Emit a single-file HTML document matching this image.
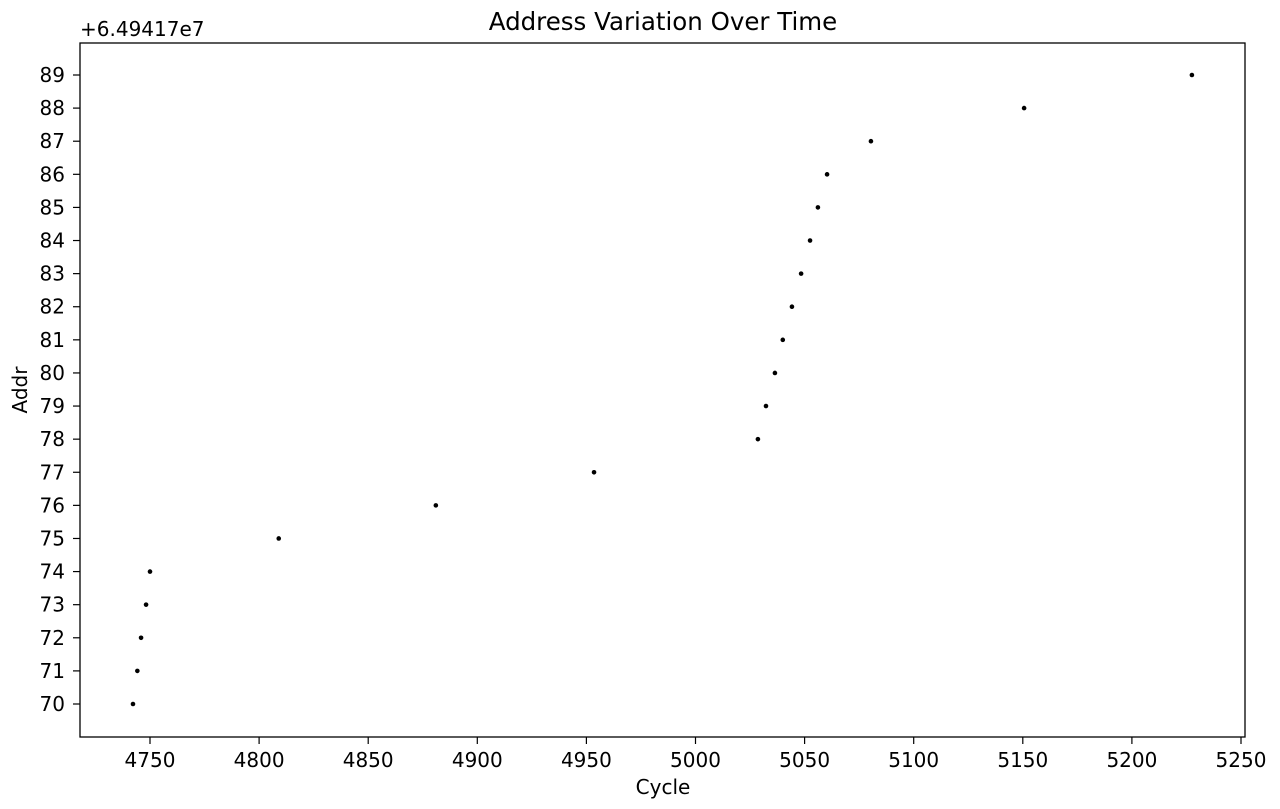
<!DOCTYPE html>
<html><head><meta charset="utf-8"><style>
body{margin:0;background:#fff}
svg text{font-family:"DejaVu Sans","Liberation Sans",sans-serif;fill:#000}
</style></head><body>
<svg id="chart" width="1280" height="804" xmlns="http://www.w3.org/2000/svg">
<rect width="1280" height="804" fill="#fff"/>
</svg>
<script>
const cycles=[4742.2,4744.2,4745.9,4748.2,4750,4809,4881,4953.5,5028.6,5032.3,5036.4,5040,5044.2,5048.4,5052.5,5056.1,5060.3,5080.4,5150.6,5227.5];
const addrs=[70,71,72,73,74,75,76,77,78,79,80,81,82,83,84,85,86,87,88,89];
const xTicks=[4750,4800,4850,4900,4950,5000,5050,5100,5150,5200,5250];
const yTicks=[70,71,72,73,74,75,76,77,78,79,80,81,82,83,84,85,86,87,88,89];
const L=80,R=1245,T=43,B=737;
const xs=v=>150+(v-4750)*(1091/500);
const ys=v=>704-(v-70)*(629/19);
const NS="http://www.w3.org/2000/svg";
const svg=document.getElementById('chart');
function mk(tag,attrs,parent){const e=document.createElementNS(NS,tag);for(const k in attrs)e.setAttribute(k,attrs[k]);(parent||svg).appendChild(e);return e;}
const frame=mk('rect',{x:L,y:T,width:R-L,height:B-T,fill:'none',stroke:'#000','stroke-width':1.3});


const gx=mk('g',{});


xTicks.forEach(t=>{const x=xs(t);
 mk('line',{x1:x,x2:x,y1:B,y2:B+7,stroke:'#000','stroke-width':1.2},gx);
 const tx=mk('text',{x:x,y:767,'font-size':20,'text-anchor':'middle'},gx);tx.textContent=t;
 
 });
const gy=mk('g',{});


yTicks.forEach(t=>{const y=ys(t);
 mk('line',{x1:L-7,x2:L,y1:y,y2:y,stroke:'#000','stroke-width':1.2},gy);
 const tx=mk('text',{x:65,y:y+7,'font-size':20,'text-anchor':'end'},gy);tx.textContent=t;
 
 });
const gp=mk('g',{});


cycles.forEach((c,i)=>{const p=mk('circle',{cx:xs(c),cy:ys(addrs[i]),r:2.3,fill:'#000'},gp);
 
 });
const title=mk('text',{x:663,y:30,'font-size':24.5,'text-anchor':'middle'});title.textContent='Address Variation Over Time';


const off=mk('text',{x:80,y:36,'font-size':20});off.textContent='+6.49417e7';


const xl=mk('text',{x:663,y:794,'font-size':20,'text-anchor':'middle'});xl.textContent='Cycle';


const yl=mk('text',{x:27,y:390,'font-size':20,'text-anchor':'middle',transform:'rotate(-90 27 390)'});yl.textContent='Addr';


</script>
</body></html>
